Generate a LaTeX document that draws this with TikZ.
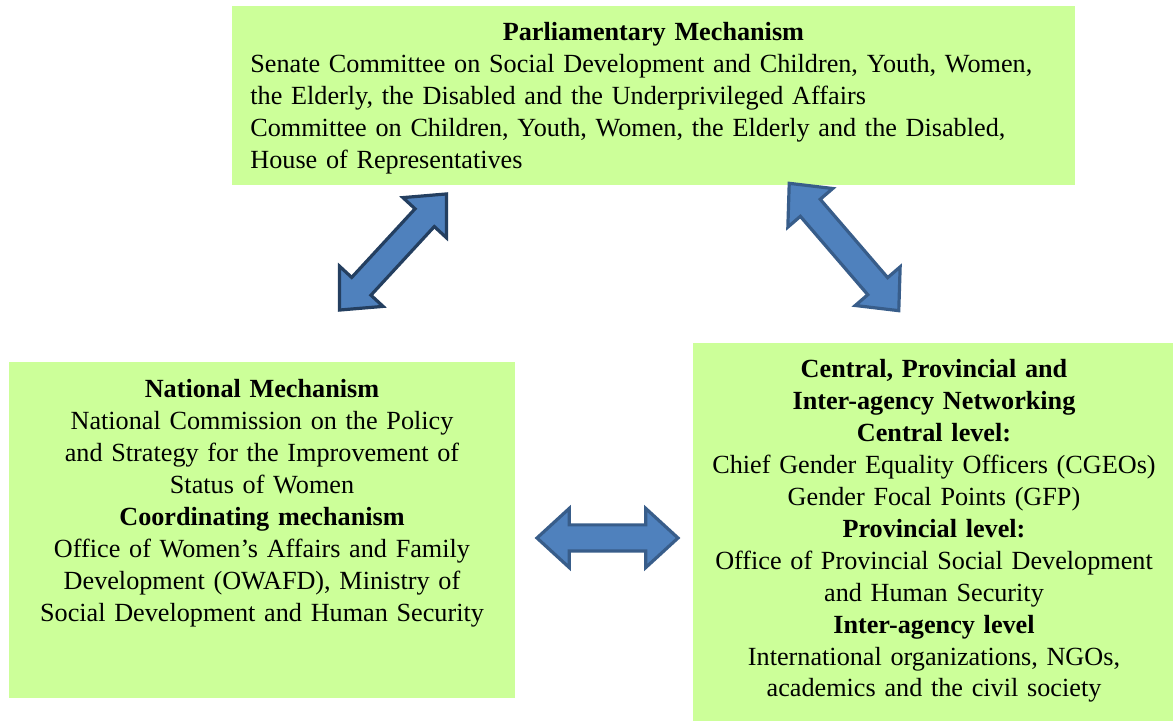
\documentclass[tikz,border=0pt]{standalone}
\usepackage{fontspec}
\setmainfont{Liberation Serif}
\usetikzlibrary{shapes.arrows, fit}
\definecolor{panelgreen}{HTML}{CCFF99}
\definecolor{arrowblue}{HTML}{4F81BD}
\definecolor{arrowedge}{HTML}{385D8A}
\definecolor{arrowdark}{HTML}{243F60}

\begin{document}
\begin{tikzpicture}[x=0.5pt, y=-0.5pt,
  panel/.style={fill=panelgreen, inner sep=0pt},
  paneltext/.style={inner sep=0pt, font=\fontsize{13.1}{15.95}\selectfont},
  twoway/.style={double arrow, fill=arrowblue, draw=arrowedge, line width=1.6pt,
    double arrow tip angle=85, double arrow head extend=8.25pt,
    minimum width=0pt, inner xsep=0pt, inner ysep=5.75pt}]
  \useasboundingbox (0,0) rectangle (1173,721);
  % boxes
  \node[panel, fit={(232,6) (1075,185)}] (parl) {};
  \node[panel, fit={(9,362) (515,698)}] (national) {};
  \node[panel, fit={(693,343) (1173,721)}] (network) {};
  % texts
  \node[paneltext, text width=403pt, anchor=base west] (parltext) at (250,41)
    {{\centering\bfseries Parliamentary Mechanism\par}\raggedright
     Senate Committee on Social Development and Children, Youth, Women,\\
     the Elderly, the Disabled and the Underprivileged Affairs\\
     Committee on Children, Youth, Women, the Elderly and the Disabled,\\
     House of Representatives};
  \node[paneltext, text width=245pt, align=center, anchor=base] (nattext) at (262,398)
    {\textbf{National Mechanism}\\
     National Commission on the Policy\\
     and Strategy for the Improvement of\\
     Status of Women\\
     \textbf{Coordinating mechanism}\\
     Office of Women’s Affairs and Family\\
     Development (OWAFD), Ministry of\\
     Social Development and Human Security};
  \node[paneltext, text width=235pt, align=center, anchor=base] (nettext) at (934,378)
    {\textbf{Central, Provincial and}\\
     \textbf{Inter-agency Networking}\\
     \textbf{Central level:}\\
     Chief Gender Equality Officers (CGEOs)\\
     Gender Focal Points (GFP)\\
     \textbf{Provincial level:}\\
     Office of Provincial Social Development\\
     and Human Security\\
     \textbf{Inter-agency level}\\
     International organizations, NGOs,\\
     academics and the civil society};
  % arrows
  \node[twoway, draw=arrowdark, minimum height=79pt, rotate=47.3] (parlnat) at (393,252) {};
  \node[twoway, minimum height=84pt, rotate=-49.3] (parlnet) at (844,247) {};
  \node[twoway, minimum height=70.5pt] (natnet) at (607.5,538) {};
\end{tikzpicture}
\end{document}
